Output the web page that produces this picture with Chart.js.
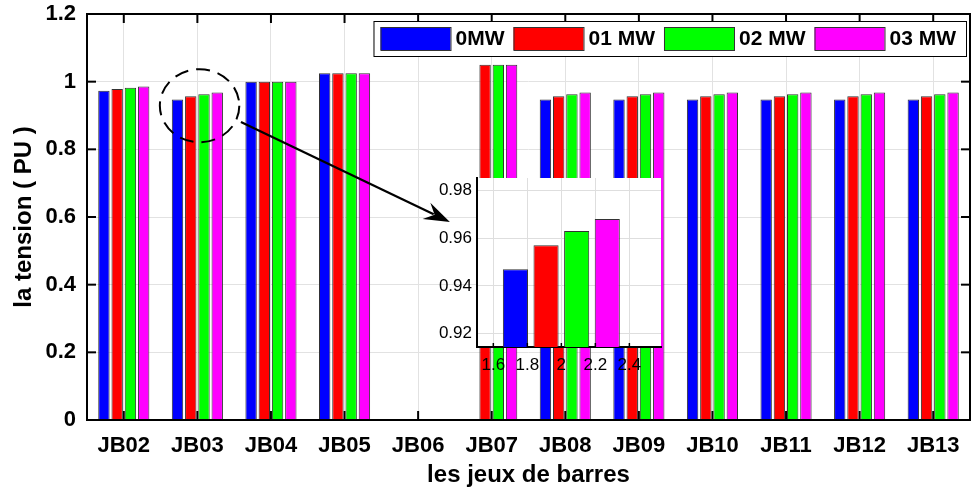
<!DOCTYPE html>
<html><head><meta charset="utf-8">
<script src="https://cdn.jsdelivr.net/npm/chart.js@4.4.0/dist/chart.umd.min.js"></script>
<style>
html,body{margin:0;padding:0;background:#fff;}
#wrap{position:relative;width:973px;height:490px;overflow:hidden;}
#main{position:absolute;left:0;top:0;}
#inset{position:absolute;left:420px;top:170px;}
</style></head><body>
<div id="wrap">
<canvas id="main" width="973" height="490"></canvas>
<canvas id="inset" width="250" height="210"></canvas>
</div>
<script>
// ---------- data ----------
const categories = ['JB02','JB03','JB04','JB05','JB06','JB07','JB08','JB09','JB10','JB11','JB12','JB13'];
const seriesLabels = ['0MW','01 MW','02 MW','03 MW'];
const v0MW  = [0.973,0.947,1.000,1.025,0,0,    0.947,0.947,0.947,0.947,0.947,0.947];
const v01MW = [0.978,0.957,1.000,1.025,0,1.050,0.957,0.957,0.957,0.957,0.957,0.957];
const v02MW = [0.982,0.963,1.000,1.025,0,1.050,0.963,0.963,0.963,0.963,0.963,0.963];
const v03MW = [0.986,0.968,1.000,1.025,0,1.050,0.968,0.968,0.968,0.968,0.968,0.968];
const seriesColors = ['#0000ff','#ff0000','#00ff00','#ff00ff'];
const yMin = 0, yMax = 1.2, yStep = 0.2;
// inset (zoom on JB03)
const insetX = [1.73, 1.91, 2.09, 2.27];
const insetValues = [v0MW[1], v01MW[1], v02MW[1], v03MW[1]];
const insetXMin = 1.504, insetXMax = 2.586, insetXStep = 0.2;
const insetYMin = 0.9144, insetYMax = 0.9852, insetYStep = 0.02;
// annotation anchors (data coordinates of the main chart)
const zoomCenter = {x: 1.03, y: 0.929}, zoomRadius = {x: 0.54, y: 0.108};
const arrowFrom = {x: 1.592, y: 0.881}, arrowTo = {x: 4.432, y: 0.585};

const FONT = 'Liberation Sans, Arial, sans-serif';
const allSeries = [v0MW, v01MW, v02MW, v03MW];

function line(ctx, x1, y1, x2, y2){ ctx.beginPath(); ctx.moveTo(x1,y1); ctx.lineTo(x2,y2); ctx.stroke(); }
const fmt = d => v => String(parseFloat(Number(v).toFixed(d)));

const framePlugin = {
  id: 'frame',
  beforeDatasetsDraw(c){
    const {ctx, chartArea:a, scales:{x, y}} = c;
    ctx.save(); ctx.strokeStyle = '#000'; ctx.lineWidth = 2;
    x.ticks.forEach((t,i)=>{ const px = x.getPixelForTick(i); line(ctx,px,a.bottom,px,a.bottom-9); line(ctx,px,a.top,px,a.top+9); });
    y.ticks.forEach((t,i)=>{ const py = y.getPixelForTick(i); line(ctx,a.left,py,a.left+9,py); line(ctx,a.right,py,a.right-9,py); });
    ctx.restore();
  },
  afterDatasetsDraw(c){
    const {ctx, chartArea:a, scales:{x, y}} = c;
    ctx.save();
    // axes box
    ctx.strokeStyle = '#000'; ctx.lineWidth = 2;
    ctx.strokeRect(a.left, a.top, a.right - a.left, a.bottom - a.top);
    // dashed ellipse
    const cx = x.getPixelForValue(zoomCenter.x), cy = y.getPixelForValue(zoomCenter.y);
    const rx = Math.abs(x.getPixelForValue(zoomCenter.x + zoomRadius.x) - cx);
    const ry = Math.abs(y.getPixelForValue(zoomCenter.y + zoomRadius.y) - cy);
    ctx.setLineDash([14,8]); ctx.lineWidth = 2;
    ctx.beginPath(); ctx.ellipse(cx, cy, rx, ry, 0, 0, Math.PI*2); ctx.stroke();
    ctx.setLineDash([]);
    // arrow
    const x1 = x.getPixelForValue(arrowFrom.x), y1 = y.getPixelForValue(arrowFrom.y);
    const x2 = x.getPixelForValue(arrowTo.x), y2 = y.getPixelForValue(arrowTo.y);
    const ang = Math.atan2(y2-y1, x2-x1), hl = 26, hw = 9;
    const bx = x2 - hl*Math.cos(ang), by = y2 - hl*Math.sin(ang);
    ctx.lineWidth = 2.2;
    line(ctx, x1, y1, bx + 8*Math.cos(ang), by + 8*Math.sin(ang));
    ctx.fillStyle = '#000';
    ctx.beginPath();
    ctx.moveTo(x2, y2);
    ctx.lineTo(bx + hw*Math.sin(ang), by - hw*Math.cos(ang));
    ctx.lineTo(bx + 9*Math.cos(ang), by + 9*Math.sin(ang));
    ctx.lineTo(bx - hw*Math.sin(ang), by + hw*Math.cos(ang));
    ctx.closePath(); ctx.fill();
    // legend
    const fs = 21, swW = 70, swH = 23, gap = 5, itemGap = 9, padL = 7, padR = 10;
    ctx.font = 'bold ' + fs + 'px ' + FONT;
    const items = c.data.datasets.map(d => ({label: d.label, color: d.backgroundColor, w: ctx.measureText(d.label).width}));
    let total = padL + padR + items.reduce((s,it)=>s + swW + gap + it.w, 0) + itemGap*(items.length-1);
    const boxR = a.right - 4, boxT = a.top + 7, boxH = 35;
    const boxL = boxR - total;
    ctx.fillStyle = '#fff'; ctx.fillRect(boxL, boxT, total, boxH);
    ctx.strokeStyle = '#000'; ctx.lineWidth = 1;
    ctx.strokeRect(boxL+0.5, boxT+0.5, total, boxH);
    let px = boxL + padL; const midY = boxT + boxH/2;
    ctx.textBaseline = 'middle'; ctx.textAlign = 'left';
    items.forEach(it => {
      ctx.fillStyle = it.color; ctx.fillRect(px, midY - swH/2, swW, swH);
      ctx.strokeStyle = '#333'; ctx.strokeRect(px+0.5, midY - swH/2 + 0.5, swW, swH);
      px += swW + gap;
      ctx.fillStyle = '#000'; ctx.fillText(it.label, px, midY + 1);
      px += it.w + itemGap;
    });
    ctx.restore();
  }
};

new Chart(document.getElementById('main'), {
  type: 'bar',
  data: {
    labels: categories,
    datasets: allSeries.map((vals, i) => ({
      label: seriesLabels[i], data: vals,
      backgroundColor: seriesColors[i], borderColor: '#333', borderWidth: 1,
      categoryPercentage: 0.72, barPercentage: 0.86
    }))
  },
  options: {
    responsive: false, animation: false, devicePixelRatio: 1,
    layout: {padding: {top: 14, right: 3, left: 0, bottom: 0}},
    plugins: {legend: {display: false}, tooltip: {enabled: false}},
    scales: {
      x: {
        grid: {offset: false, color: '#e2e2e2', lineWidth: 1, drawTicks: false},
        border: {display: false},
        ticks: {font: {family: FONT, size: 22, weight: 'bold'}, color: '#000', padding: 13, maxRotation: 0, autoSkip: false},
        title: {display: true, text: 'les jeux de barres', font: {family: FONT, size: 24, weight: 'bold'}, color: '#000', padding: 0},
        afterFit(s){ s.height = 70; s.paddingLeft = 0; s.paddingRight = 0; }
      },
      y: {
        min: yMin, max: yMax,
        grid: {color: '#e2e2e2', lineWidth: 1, drawTicks: false},
        border: {display: false},
        ticks: {stepSize: yStep, font: {family: FONT, size: 22, weight: 'bold'}, color: '#000', padding: 11, callback: fmt(1)},
        title: {display: true, text: 'la tension ( PU )', font: {family: FONT, size: 24, weight: 'bold'}, color: '#000', padding: {top: 10, bottom: 0}},
        afterFit(s){ s.width = 87; s.paddingTop = 0; s.paddingBottom = 0; }
      }
    }
  },
  plugins: [framePlugin]
});

// ---------- inset ----------
const insetPlugin = {
  id: 'insetBg',
  beforeDraw(c){
    const {ctx, chartArea:a} = c;
    ctx.save(); ctx.fillStyle = '#fff'; ctx.fillRect(a.left, a.top, a.right-a.left, a.bottom-a.top); ctx.restore();
  },
  afterDatasetsDraw(c){
    const {ctx, chartArea:a, scales:{x}} = c;
    ctx.save(); ctx.strokeStyle = '#000'; ctx.lineWidth = 1.5;
    x.ticks.forEach((t,i)=>{ const px = x.getPixelForTick(i); line(ctx,px,a.bottom,px,a.bottom-4); });
    ctx.restore();
  }
};
new Chart(document.getElementById('inset'), {
  type: 'bar',
  data: {
    datasets: [{
      data: insetX.map((xv, i) => ({x: xv, y: insetValues[i]})),
      backgroundColor: seriesColors, borderColor: '#333', borderWidth: 1,
      categoryPercentage: 1, barPercentage: 0.82
    }]
  },
  options: {
    responsive: false, animation: false, devicePixelRatio: 1,
    layout: {padding: {top: 8, right: 9, left: 0, bottom: 0}},
    plugins: {legend: {display: false}, tooltip: {enabled: false}},
    scales: {
      x: {
        type: 'linear', offset: false, min: insetXMin, max: insetXMax,
        grid: {color: '#dedede', drawTicks: false, offset: false},
        border: {display: true, color: '#000', width: 2},
        ticks: {stepSize: insetXStep, includeBounds: false, font: {family: FONT, size: 17}, color: '#000', padding: 8, callback: fmt(1), maxRotation: 0},
        afterFit(s){ s.height = 33; s.paddingLeft = 0; s.paddingRight = 0; }
      },
      y: {
        min: insetYMin, max: insetYMax,
        grid: {color: '#dedede', drawTicks: false},
        border: {display: true, color: '#000', width: 2},
        ticks: {stepSize: insetYStep, includeBounds: false, font: {family: FONT, size: 17}, color: '#000', padding: 5, callback: fmt(2)},
        afterFit(s){ s.width = 57; s.paddingTop = 0; s.paddingBottom = 0; }
      }
    }
  },
  plugins: [insetPlugin]
});
</script>
</body></html>
